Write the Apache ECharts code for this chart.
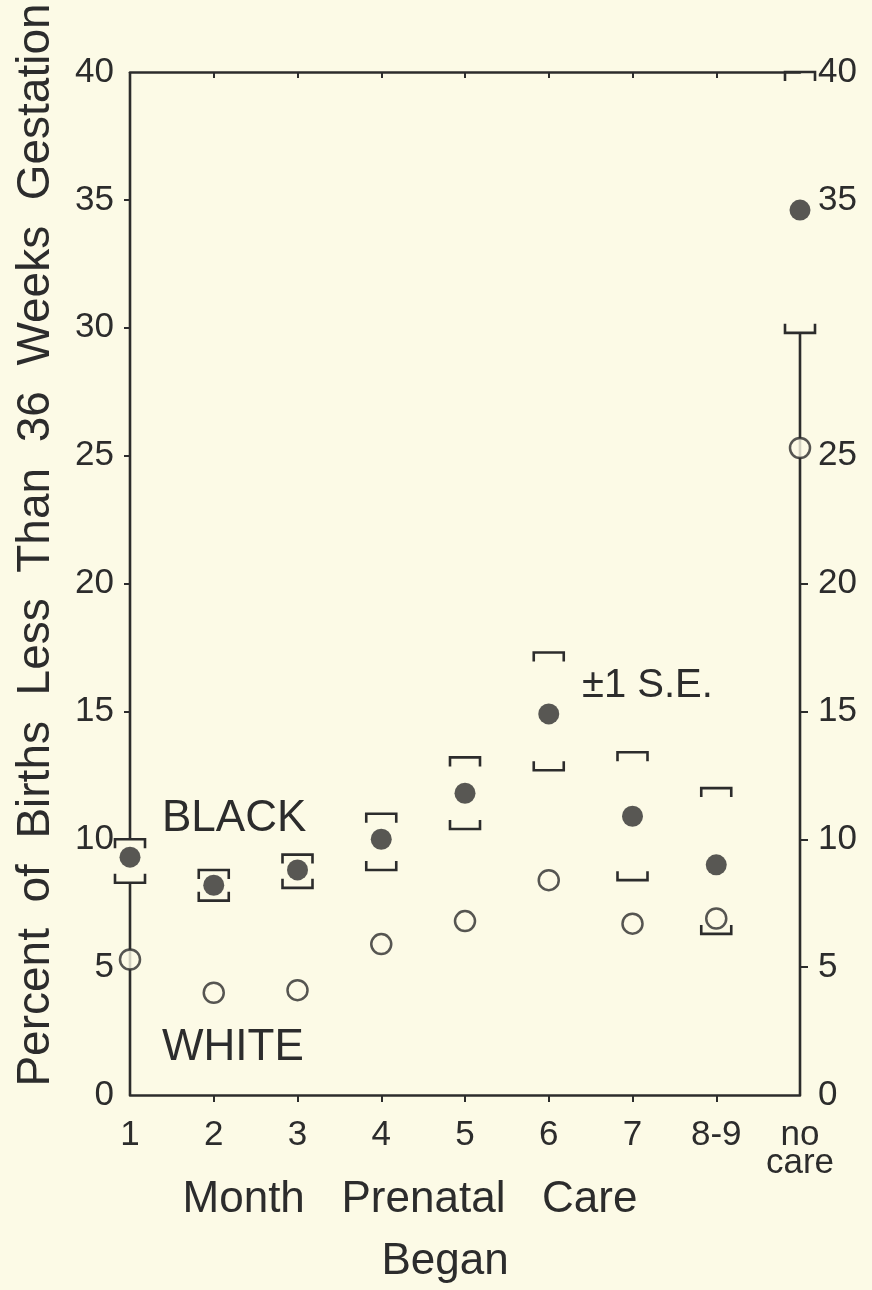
<!DOCTYPE html>
<html>
<head>
<meta charset="utf-8">
<script src="https://cdn.jsdelivr.net/npm/echarts@6/dist/echarts.min.js"></script>
<style>
html,body{margin:0;padding:0;background:#fcfae6;}
#c{width:872px;height:1290px;}
</style>
</head>
<body>
<div id="c"></div>
<script>
// ---- data ----
const categories = ['1', '2', '3', '4', '5', '6', '7', '8-9', 'no\ncare'];
const blackPct    = [9.3, 8.2, 8.8, 10.0, 11.8, 14.9, 10.9, 9.0, 34.6];
const blackSELow  = [8.3, 7.6, 8.1, 8.8, 10.4, 12.7, 8.4, 6.3, 29.8];
const blackSEHigh = [10.0, 8.8, 9.4, 11.0, 13.2, 17.3, 13.4, 12.0, 40.0];
const whitePct    = [5.3, 4.0, 4.1, 5.9, 6.8, 8.4, 6.7, 6.9, 25.3];
const yTicks = [0, 5, 10, 15, 20, 25, 30, 35, 40];
const rightHiddenLabels = [30];
const rightTicks = [5, 10, 15, 20];
const leftTicks = [15, 20, 25, 30, 35];
const innerXTicks = [2, 3, 4, 5, 6, 7, 8];

const INK = '#2c2c2c';
const BG = '#fcfae6';
const FONT = 'Liberation Sans, Arial, sans-serif';

const xs = categories.map((c, i) => i + 1);
const blackData = xs.map((x, i) => [x, blackPct[i]]);
const whiteData = xs.map((x, i) => [x, whitePct[i]]);
const seData = xs.map((x, i) => [x, blackSELow[i], blackSEHigh[i]]);
const last = xs.length - 1;
const yMin = yTicks[0], yMax = yTicks[yTicks.length - 1];
// frame pieces that are interrupted by the markers at the first and last columns
const rightLine = [[xs[last], yMin], [xs[last], blackSELow[last]]];
const leftLineLow = [[xs[0], yMin], [xs[0], blackSELow[0]]];
const leftLineHigh = [[xs[0], blackSEHigh[0]], [xs[0], yMax]];

const chart = echarts.init(document.getElementById('c'), null, {renderer: 'canvas'});

function bracketItem(params, api) {
  const x = api.value(0);
  const lo = api.coord([x, api.value(1)]);
  const hi = api.coord([x, api.value(2)]);
  const hw = 15, leg = 9;
  const style = {stroke: INK, lineWidth: 2.6, fill: null, lineJoin: 'miter'};
  return {
    type: 'group',
    children: [
      {type: 'polyline', shape: {points: [[hi[0] - hw, hi[1] + leg], [hi[0] - hw, hi[1]], [hi[0] + hw, hi[1]], [hi[0] + hw, hi[1] + leg]]}, style: style},
      {type: 'polyline', shape: {points: [[lo[0] - hw, lo[1] - leg], [lo[0] - hw, lo[1]], [lo[0] + hw, lo[1]], [lo[0] + hw, lo[1] - leg]]}, style: style}
    ]
  };
}

function frameLine(data) {
  return {
    type: 'line', data: data, xAxisIndex: 0, yAxisIndex: 0, symbol: 'none', clip: false,
    lineStyle: {color: INK, width: 2.6}, z: 1, silent: true
  };
}

const option = {
  backgroundColor: BG,
  animation: false,
  grid: {left: 130, top: 72, width: 670, height: 1023},
  xAxis: [
    {
      type: 'value', min: 1, max: 9, interval: 1, position: 'bottom',
      axisLine: {show: true, lineStyle: {color: INK, width: 2.6}},
      axisTick: {show: true, length: 7, lineStyle: {color: INK, width: 2}, customValues: innerXTicks},
      axisLabel: {
        show: true, margin: 26, color: INK, fontSize: 35, fontFamily: FONT, lineHeight: 28,
        formatter: v => categories[Math.round(v) - 1] || ''
      },
      splitLine: {show: false}
    },
    {
      type: 'value', min: 1, max: 9, interval: 1, position: 'top',
      axisLine: {show: true, onZero: false, lineStyle: {color: INK, width: 2.6}},
      axisTick: {show: true, inside: true, length: 6, lineStyle: {color: INK, width: 2}, customValues: innerXTicks},
      axisLabel: {show: false},
      splitLine: {show: false}
    }
  ],
  yAxis: [
    {
      type: 'value', min: yMin, max: yMax, interval: 5, position: 'left',
      axisLine: {show: false},
      axisTick: {show: true, length: 6, lineStyle: {color: INK, width: 2}, customValues: leftTicks},
      axisLabel: {show: true, margin: 16, color: INK, fontSize: 35, fontFamily: FONT, customValues: yTicks},
      splitLine: {show: false}
    },
    {
      type: 'value', min: yMin, max: yMax, interval: 5, position: 'right',
      axisLine: {show: false},
      axisTick: {show: true, length: 8, lineStyle: {color: INK, width: 2}, customValues: rightTicks},
      axisLabel: {
        show: true, margin: 18, color: INK, fontSize: 35, fontFamily: FONT,
        customValues: yTicks.filter(v => rightHiddenLabels.indexOf(v) < 0)
      },
      splitLine: {show: false}
    }
  ],
  series: [
    frameLine(rightLine),
    frameLine(leftLineLow),
    frameLine(leftLineHigh),
    {
      type: 'custom', data: seData, xAxisIndex: 1, yAxisIndex: 1, renderItem: bracketItem, clip: false, z: 2,
      encode: {x: 0, y: [1, 2]}
    },
    {
      type: 'scatter', name: 'BLACK', data: blackData, xAxisIndex: 0, yAxisIndex: 0, symbol: 'circle', symbolSize: 21,
      itemStyle: {color: '#2e2e2e'}, z: 5, clip: false
    },
    {
      type: 'scatter', name: 'WHITE', data: whiteData, xAxisIndex: 0, yAxisIndex: 0, symbol: 'circle', symbolSize: 20,
      itemStyle: {color: BG, borderColor: INK, borderWidth: 2.5}, z: 5, clip: false
    }
  ],
  graphic: [
    {type: 'text', left: 162, top: 797, style: {text: 'BLACK', font: '44px ' + FONT, fill: INK}},
    {type: 'text', left: 162, top: 1026, style: {text: 'WHITE', font: '44px ' + FONT, fill: INK}},
    {type: 'text', left: 582, top: 666, style: {text: '±1 S.E.', font: '40px ' + FONT, fill: INK}},
    {type: 'text', x: 410, y: 1200, style: {text: 'Month   Prenatal   Care', font: '44px ' + FONT, fill: INK, align: 'center', verticalAlign: 'middle'}},
    {type: 'text', x: 445, y: 1262, style: {text: 'Began', font: '44px ' + FONT, fill: INK, align: 'center', verticalAlign: 'middle'}},
    {type: 'text', x: 36, y: 545, rotation: Math.PI / 2,
      style: {text: 'Percent  of  Births  Less  Than  36  Weeks  Gestation', font: '46px ' + FONT, fill: INK, align: 'center', verticalAlign: 'middle'}}
  ]
};
chart.setOption(option);
</script>
</body>
</html>
